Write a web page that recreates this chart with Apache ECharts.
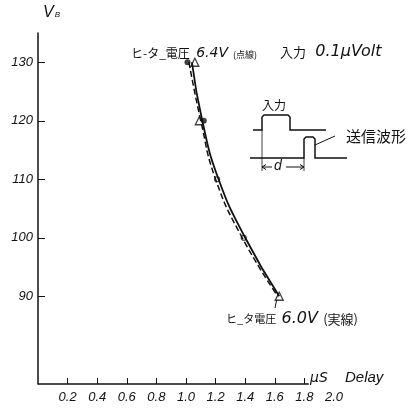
<!DOCTYPE html>
<html>
<head>
<meta charset="utf-8">
<script src="https://cdn.jsdelivr.net/npm/echarts@6/dist/echarts.min.js"></script>
<style>html,body{margin:0;padding:0;background:#fff;}#c{width:408px;height:410px;}</style>
</head>
<body>
<div id="c"></div>
<script>
// Data
const voltages = [130, 120, 110, 100, 90];            // V_B
// fitted curves as drawn
const curve64 = [1.02, 1.10, 1.20, 1.38, 1.62];       // heater 6.4V (dashed)
const curve60 = [1.04, 1.11, 1.22, 1.40, 1.63];       // heater 6.0V (solid)
// measured points (markers)
const dotX = [1.01, 1.12];       const dotY = [130, 120];
const triX = [1.06, 1.09, 1.63]; const triY = [130, 120, 90];
const ringX = [1.21, 1.39];      const ringY = [110, 100];
const xTicks = [0.2, 0.4, 0.6, 0.8, 1.0, 1.2, 1.4, 1.6, 1.8];
const xLabels = [0.2, 0.4, 0.6, 0.8, 1.0, 1.2, 1.4, 1.6, 1.8, 2.0];
const yTicks = [90, 100, 110, 120, 130];

const numFont = '"Liberation Sans Narrow","Liberation Sans","DejaVu Sans",sans-serif';
const wideFont = '"DejaVu Sans",sans-serif';
const jpFont = '"Noto Sans CJK JP",sans-serif';

const zip = (xs, ys) => xs.map((x, i) => [x, ys[i]]);

const chart = echarts.init(document.getElementById('c'), null, {renderer: 'canvas'});
const ink = '#111';
chart.setOption({
  backgroundColor: '#fff',
  animation: false,
  grid: {left: 38, top: 33, width: 296, height: 351},
  xAxis: {
    type: 'value', min: 0, max: 2.0,
    axisLine: {show: false},
    splitLine: {show: false},
    axisTick: {show: true, inside: true, length: 6, customValues: xTicks, lineStyle: {color: ink, width: 1}},
    axisLabel: {customValues: xLabels, margin: 7, color: ink, fontStyle: 'italic', fontSize: 13, fontFamily: numFont,
      formatter: v => v.toFixed(1)}
  },
  yAxis: {
    type: 'value', min: 75, max: 135,
    axisLine: {show: true, lineStyle: {color: ink, width: 1.5}},
    splitLine: {show: false},
    axisTick: {show: true, inside: true, length: 7, customValues: yTicks, lineStyle: {color: ink, width: 1}},
    axisLabel: {customValues: yTicks, margin: 5, color: ink, fontStyle: 'italic', fontSize: 13, fontFamily: numFont},
    name: '{v|V}{b|B}', nameLocation: 'end', nameGap: 12,
    nameTextStyle: {align: 'left', padding: [0, 0, 0, 5],
      rich: {v: {fontSize: 16, fontStyle: 'italic', fontFamily: numFont, color: ink},
             b: {fontSize: 8, fontStyle: 'italic', fontFamily: numFont, color: ink, padding: [4, 0, 0, 1]}}}
  },
  series: [
    {
      name: '6.0V', type: 'line', data: zip(curve60, voltages), smooth: 0.5, showSymbol: false,
      lineStyle: {color: ink, width: 1.8, type: 'solid'},
      markLine: {silent: true, symbol: 'none', label: {show: false},
        lineStyle: {color: ink, width: 1.5, type: 'solid'},
        data: [[{coord: [0, 75]}, {coord: [1.83, 75]}]]}
    },
    {
      name: '6.4V', type: 'line', data: zip(curve64, voltages), smooth: 0.5, showSymbol: false,
      lineStyle: {color: ink, width: 1.5, type: [6, 3]}
    },
    {type: 'scatter', data: zip(dotX, dotY), symbol: 'circle', symbolSize: 6, itemStyle: {color: ink}},
    {type: 'scatter', data: zip(triX, triY), symbol: 'triangle', symbolSize: 8,
      itemStyle: {color: '#fff', borderColor: ink, borderWidth: 1.3}},
    {type: 'scatter', data: zip(ringX, ringY), symbol: 'circle', symbolSize: 5,
      itemStyle: {color: '#fff', borderColor: ink, borderWidth: 1.2}}
  ],
  graphic: [
    {type: 'text', left: 131, top: 46, style: {
      text: '{j|ヒ-タ_電圧} {n|6.4V}{s|(点線)}',
      rich: {j: {fontFamily: jpFont, fontSize: 12, fill: ink},
             n: {fontFamily: wideFont, fontStyle: 'italic', fontSize: 14, fill: ink, padding: [0, 3, 0, 3]},
             s: {fontFamily: jpFont, fontSize: 9, fill: ink, padding: [3, 0, 0, 2]}}}},
    {type: 'text', left: 280, top: 44, style: {
      text: '{j|入力} {n|0.1μVolt}',
      rich: {j: {fontFamily: jpFont, fontSize: 13, fill: ink, padding: [0, 6, 0, 0]},
             n: {fontFamily: wideFont, fontStyle: 'italic', fontSize: 16, fill: ink}}}},
    {type: 'text', left: 226, top: 311, style: {
      text: '{j|ヒ_タ電圧} {n|6.0V} {s|(実線)}',
      rich: {j: {fontFamily: jpFont, fontSize: 11, fill: ink},
             n: {fontFamily: wideFont, fontStyle: 'italic', fontSize: 16, fill: ink, padding: [0, 2, 0, 2]},
             s: {fontFamily: jpFont, fontSize: 13, fill: ink}}}},
    {type: 'line', shape: {x1: 275, y1: 308, x2: 277, y2: 298}, style: {stroke: ink, lineWidth: 1}},
    {type: 'text', left: 310, top: 371, style: {text: 'μS', fontFamily: wideFont, fontStyle: 'italic', fontSize: 14, fill: ink}},
    {type: 'text', left: 345, top: 370, style: {text: 'Delay', fontFamily: numFont, fontStyle: 'italic', fontSize: 15, fill: ink}},
    // inset diagram
    {type: 'text', left: 262, top: 99, style: {text: '入力', fontFamily: jpFont, fontSize: 12, fill: ink}},
    {type: 'polyline', shape: {points: [[253, 130], [262, 130], [262, 117], [264, 115], [288, 115], [290, 117], [290, 130], [326, 130]]},
      style: {stroke: ink, lineWidth: 1.5, fill: null}},
    {type: 'polyline', shape: {points: [[250, 158], [304, 158], [304, 139], [306, 137], [313, 137], [315, 139], [315, 158], [347, 158]]},
      style: {stroke: ink, lineWidth: 1.5, fill: null}},
    {type: 'line', shape: {x1: 262, y1: 130, x2: 262, y2: 171}, style: {stroke: ink, lineWidth: 0.8}},
    {type: 'line', shape: {x1: 304, y1: 158, x2: 304, y2: 171}, style: {stroke: ink, lineWidth: 0.8}},
    {type: 'line', shape: {x1: 262, y1: 167, x2: 272, y2: 167}, style: {stroke: ink, lineWidth: 1}},
    {type: 'line', shape: {x1: 286, y1: 167, x2: 304, y2: 167}, style: {stroke: ink, lineWidth: 1}},
    {type: 'polyline', shape: {points: [[266, 164.5], [262, 167], [266, 169.5]]}, style: {stroke: ink, lineWidth: 1, fill: null}},
    {type: 'polyline', shape: {points: [[300, 164.5], [304, 167], [300, 169.5]]}, style: {stroke: ink, lineWidth: 1, fill: null}},
    {type: 'text', left: 274, top: 159, style: {text: 'd', fontFamily: numFont, fontStyle: 'italic', fontSize: 14, fill: ink}},
    {type: 'line', shape: {x1: 335, y1: 136, x2: 315, y2: 145}, style: {stroke: ink, lineWidth: 1}},
    {type: 'text', left: 346, top: 129, style: {text: '送信波形', fontFamily: jpFont, fontSize: 15, fill: ink}}
  ]
});
</script>
</body>
</html>
